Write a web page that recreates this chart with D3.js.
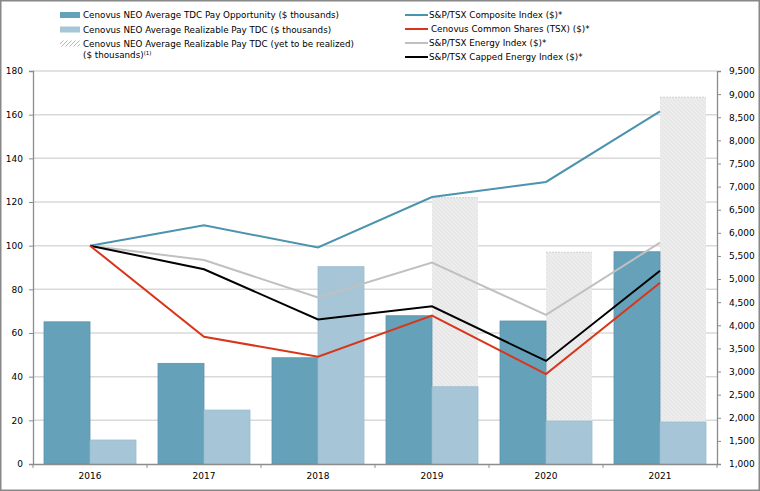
<!DOCTYPE html>
<html><head><meta charset="utf-8">
<script src="https://cdn.jsdelivr.net/npm/d3@7"></script>
<style>
body{margin:0;background:#fff;}
svg{display:block;font-family:"DejaVu Sans",Verdana,sans-serif;}
</style></head><body>
<svg id="c" width="760" height="491"></svg>
<script>
const years = ["2016","2017","2018","2019","2020","2021"];
// bars in $ thousands (right axis)
const payOpportunity = [4075, 3177, 3298, 4207, 4093, 5591];
const payRealizable = [1519, 2167, 5268, 2671, 1930, 1908];
const payTotalInclYet = [null, null, null, 6760, 5580, 8933];
// lines: index (left axis)
const compositeIdx = [100, 109.3, 99.2, 122.3, 129.2, 161.5];
const cenovusIdx = [100, 58.3, 49.1, 68.0, 41.2, 83.0];
const energyIdx = [100, 93.4, 76.3, 92.3, 68.3, 101.4];
const cappedIdx = [100, 89.2, 66.2, 72.2, 47.2, 88.5];
const leftTicks = [0,20,40,60,80,100,120,140,160,180];
const rightTicks = d3.range(1000, 9501, 500);

const svg = d3.select("#c");
const L = 33, R = 717, T = 71, B = 464;
const x = d3.scaleBand().domain(years).range([L, R]);
const yL = d3.scaleLinear().domain([0,180]).range([B, T]);
const yR = d3.scaleLinear().domain([1000,9500]).range([B, T]);

// pattern
const defs = svg.append("defs");
const pat = defs.append("pattern").attr("id","hatch").attr("patternUnits","userSpaceOnUse")
  .attr("width",4).attr("height",4);
pat.append("rect").attr("width",4).attr("height",4).attr("fill","#e8e8e8");
pat.append("path").attr("d","M-1,-1 L5,5 M-1,3 L1,5 M3,-1 L5,1").attr("stroke","#f3f3f3").attr("stroke-width",0.7);
const pat2 = defs.append("pattern").attr("id","hatchL").attr("patternUnits","userSpaceOnUse")
  .attr("width",4).attr("height",4);
pat2.append("rect").attr("width",4).attr("height",4).attr("fill","#fff");
pat2.append("path").attr("d","M-1,5 L5,-1 M-1,1 L1,-1 M3,5 L5,3").attr("stroke","#b5b5b5").attr("stroke-width",1);

// gridlines
svg.append("g").selectAll("line").data(leftTicks.slice(1)).join("line")
  .attr("x1", L).attr("x2", R).attr("y1", d=>yL(d)).attr("y2", d=>yL(d))
  .attr("stroke","#d9d9d9").attr("stroke-width",1.5);

const bw = x.bandwidth()*0.4035;
const g = svg.append("g");
const hatchData = years.map((y,i)=>({y,i})).filter(d=>payTotalInclYet[d.i]!=null);
g.selectAll(".h").data(hatchData).join("rect")
  .attr("x", d=>x(d.y)+x.bandwidth()/2)
  .attr("width", bw)
  .attr("y", d=>yR(payTotalInclYet[d.i]))
  .attr("height", d=>yR(payRealizable[d.i]) - yR(payTotalInclYet[d.i]))
  .attr("fill","url(#hatch)");
g.selectAll(".ht").data(hatchData).join("line")
  .attr("x1", d=>x(d.y)+x.bandwidth()/2).attr("x2", d=>x(d.y)+x.bandwidth()/2+bw)
  .attr("y1", d=>yR(payTotalInclYet[d.i])).attr("y2", d=>yR(payTotalInclYet[d.i]))
  .attr("stroke","#d0d0d0").attr("stroke-dasharray","2,1");
// opportunity
g.selectAll(".o").data(years).join("rect")
  .attr("x", d=>x(d)+x.bandwidth()/2-bw)
  .attr("width", bw)
  .attr("y", (d,i)=>yR(payOpportunity[i]))
  .attr("height", (d,i)=>yR(1000)-yR(payOpportunity[i]))
  .attr("fill","#66a1ba").attr("stroke","#5b95ae").attr("stroke-width",0.8);
// realizable
g.selectAll(".r").data(years).join("rect")
  .attr("x", d=>x(d)+x.bandwidth()/2)
  .attr("width", bw)
  .attr("y", (d,i)=>yR(payRealizable[i]))
  .attr("height", (d,i)=>yR(1000)-yR(payRealizable[i]))
  .attr("fill","#a6c6d7").attr("stroke","#98bccf").attr("stroke-width",0.8);

// lines
const line = d3.line().x((d,i)=>x(years[i])+x.bandwidth()/2).y(d=>yL(d));
const series = [
  {v: compositeIdx, c:"#4b93ae"},
  {v: energyIdx, c:"#c0c0c0"},
  {v: cappedIdx, c:"#000000"},
  {v: cenovusIdx, c:"#d8361b"}
];
series.forEach(s=>{
  svg.append("path").datum(s.v).attr("d", line).attr("fill","none")
    .attr("stroke", s.c).attr("stroke-width",2).attr("stroke-linejoin","miter");
});

// axes
const axisColor = "#8c8c8c";
const la = svg.append("g").attr("transform",`translate(${L},0)`)
  .call(d3.axisLeft(yL).tickValues(leftTicks).tickSize(4).tickPadding(6));
const ra = svg.append("g").attr("transform",`translate(${R},0)`)
  .call(d3.axisRight(yR).tickValues(rightTicks).tickSize(4).tickPadding(8).tickFormat(d3.format(",")));
const ba = svg.append("g").attr("transform",`translate(0,${B})`)
  .call(d3.axisBottom(x).tickSize(0).tickPadding(9));
ba.selectAll(".tick").append("line").attr("x1",-x.bandwidth()/2).attr("x2",-x.bandwidth()/2).attr("y2",4).attr("stroke",axisColor);
ba.append("line").attr("x1",R).attr("x2",R).attr("y2",4).attr("stroke",axisColor);
[la,ra,ba].forEach(a=>{
  a.selectAll("path.domain").attr("stroke",axisColor).attr("stroke-width",1.3);
  a.selectAll(".tick line").attr("stroke",axisColor);
  a.selectAll("text").attr("fill","#000").style("font-size","9px").style("font-family","DejaVu Sans, Verdana, sans-serif");
});

// legend
const fs = "8.75px";
const lg = svg.append("g").style("font-size",fs);
const leftItems = [
  {t:"Cenovus NEO Average TDC Pay Opportunity ($ thousands)", f:"#66a1ba", y:15},
  {t:"Cenovus NEO Average Realizable Pay TDC ($ thousands)", f:"#a6c6d7", y:29.5},
  {t:"Cenovus NEO Average Realizable Pay TDC (yet to be realized)", f:"url(#hatchL)", y:43.5}
];
leftItems.forEach(d=>{
  lg.append("rect").attr("x",60).attr("y",d.y-3).attr("width",20).attr("height",6).attr("fill",d.f);
  lg.append("text").attr("x",83).attr("y",d.y+3.3).text(d.t);
});
const t4 = lg.append("text").attr("x",83).attr("y",57.5);
t4.append("tspan").text("($ thousands)");
t4.append("tspan").attr("dy",-3).style("font-size","5.5px").text("(1)");

const rightItems = [
  {t:"S&P/TSX Composite Index ($)*", c:"#4b93ae", y:15, tx:429},
  {t:"Cenovus Common Shares (TSX) ($)*", c:"#d8361b", y:29, tx:431},
  {t:"S&P/TSX Energy Index ($)*", c:"#c0c0c0", y:43, tx:429},
  {t:"S&P/TSX Capped Energy Index ($)*", c:"#000000", y:57, tx:429}
];
rightItems.forEach(d=>{
  lg.append("line").attr("x1",405).attr("x2",428).attr("y1",d.y).attr("y2",d.y).attr("stroke",d.c).attr("stroke-width",2);
  lg.append("text").attr("x",d.tx).attr("y",d.y+3.3).text(d.t);
});

// frame
svg.append("rect").attr("x",0.75).attr("y",0.75).attr("width",758.5).attr("height",489.5)
  .attr("fill","none").attr("stroke","#888").attr("stroke-width",1.5);
</script>
</body></html>
